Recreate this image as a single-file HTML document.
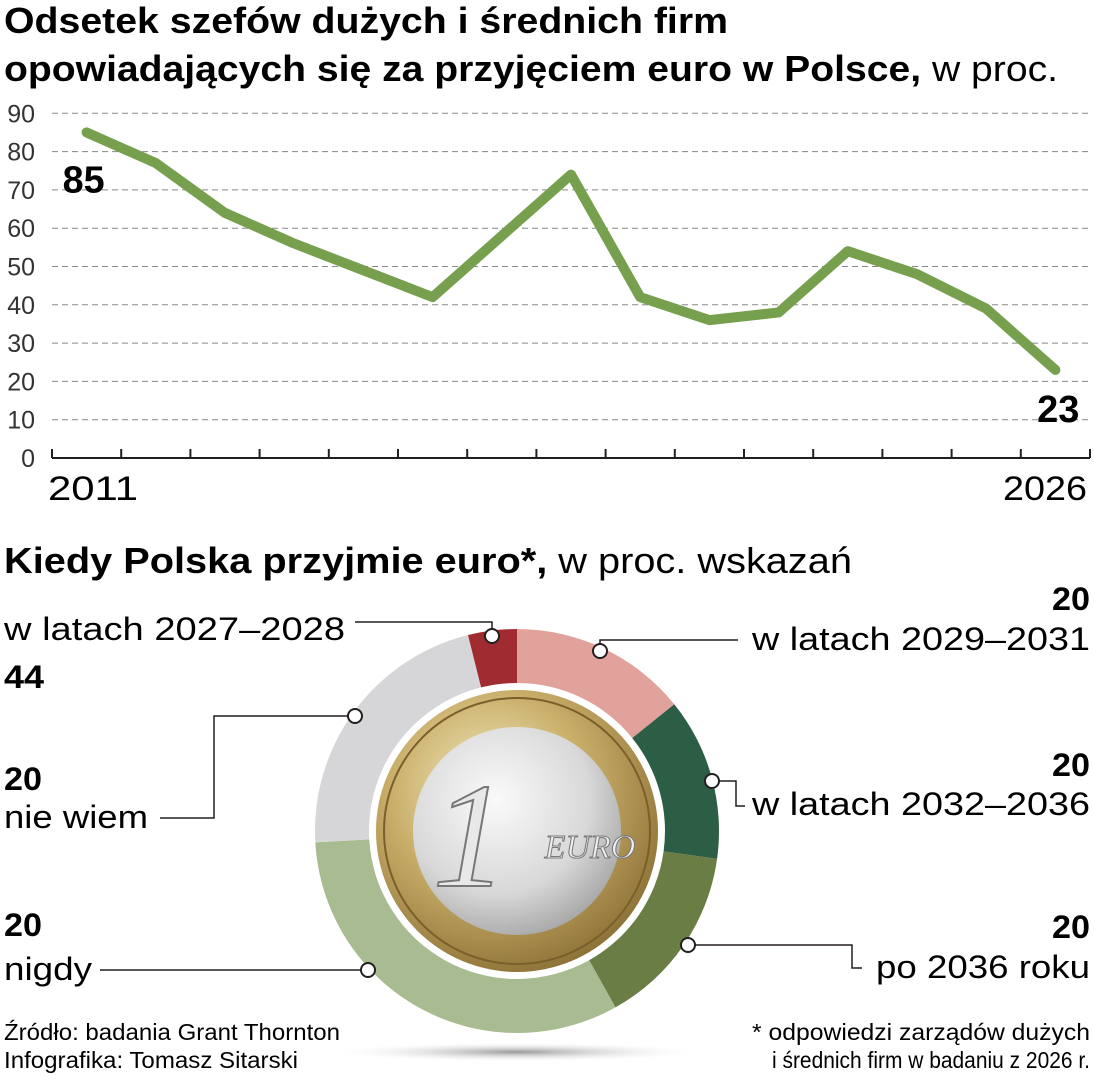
<!DOCTYPE html>
<html><head><meta charset="utf-8"><style>
body{margin:0;background:#fff;width:1094px;height:1080px;overflow:hidden;font-family:"Liberation Sans",sans-serif;color:#231f20}
svg{position:absolute;left:0;top:0}
</style></head><body>
<svg width="1094" height="1080">
<defs>
<radialGradient id="coinEdge" cx="40%" cy="35%" r="70%"><stop offset="0" stop-color="#f4ecc0"/><stop offset="0.5" stop-color="#c9ae6a"/><stop offset="1" stop-color="#8a6f35"/></radialGradient>
<radialGradient id="coinCore" cx="40%" cy="35%" r="75%"><stop offset="0" stop-color="#fafafa"/><stop offset="0.6" stop-color="#d8d8d8"/><stop offset="1" stop-color="#9a9a9a"/></radialGradient>
<radialGradient id="shadow" cx="50%" cy="50%" r="50%"><stop offset="0" stop-color="#999"/><stop offset="1" stop-color="#fff" stop-opacity="0"/></radialGradient>
</defs>
<text x="4" y="33" font-size="36" font-weight="bold" textLength="724" lengthAdjust="spacingAndGlyphs">Odsetek szefów dużych i średnich firm</text>
<text x="4" y="81" font-size="36" font-weight="bold" textLength="1054" lengthAdjust="spacingAndGlyphs">opowiadających się za przyjęciem euro w Polsce,<tspan font-weight="normal"> w proc.</tspan></text>
<g id="grid"></g>
<g id="yticks"></g>
<g id="xaxis"></g>
<path id="line" fill="none" stroke="#76a04d" stroke-width="10" stroke-linejoin="round" stroke-linecap="round"/>
<text id="firstLbl" font-size="38" font-weight="bold" textLength="42" lengthAdjust="spacingAndGlyphs"></text>
<text id="lastLbl" font-size="38" font-weight="bold" text-anchor="end"></text>
<text x="48" y="500" font-size="34" textLength="90" lengthAdjust="spacingAndGlyphs">2011</text>
<text x="1003" y="500" font-size="34" textLength="84" lengthAdjust="spacingAndGlyphs">2026</text>

<text x="4" y="573" font-size="36" font-weight="bold" textLength="848" lengthAdjust="spacingAndGlyphs">Kiedy Polska przyjmie euro*,<tspan font-weight="normal"> w proc. wskazań</tspan></text>
<ellipse cx="517" cy="1052" rx="190" ry="10" fill="url(#shadow)"/>
<g id="donut"></g>
<g>
<circle cx="517" cy="831" r="141" fill="url(#coinEdge)"/>
<circle cx="517" cy="831" r="133" fill="none" stroke="#7a5f2a" stroke-width="2"/>
<circle cx="517" cy="831" r="104" fill="url(#coinCore)"/>
<text x="470" y="886" font-size="150" font-style="italic" font-family="Liberation Serif,serif" fill="#e8e8e8" stroke="#777" stroke-width="2" text-anchor="middle">1</text>
<text x="590" y="858" font-size="34" font-style="italic" font-family="Liberation Serif,serif" fill="#eee" stroke="#777" stroke-width="1" text-anchor="middle">EURO</text>
</g>
<g stroke="#231f20" stroke-width="1.5" fill="none">
<path d="M355 622 H492 V636"/>
<path d="M600 651 V640 H738"/>
<path d="M355 716 H214 V818 H160"/>
<path d="M712 781 H736 V806 H745"/>
<path d="M688 945 H852 V968 H862"/>
<path d="M368 970 H100"/>
</g>
<g fill="#fff" stroke="#231f20" stroke-width="2">
<circle cx="492" cy="636" r="7"/><circle cx="600" cy="651" r="7"/><circle cx="355" cy="716" r="7"/>
<circle cx="712" cy="781" r="7"/><circle cx="688" cy="945" r="7"/><circle cx="368" cy="970" r="7"/>
</g>
<g font-size="32" lengthAdjust="spacingAndGlyphs">
<text x="4" y="640" textLength="341" lengthAdjust="spacingAndGlyphs">w latach 2027–2028</text>
<text x="4" y="688" font-weight="bold" textLength="40" lengthAdjust="spacingAndGlyphs">44</text>
<text x="4" y="790" font-weight="bold" textLength="38" lengthAdjust="spacingAndGlyphs">20</text>
<text x="4" y="828" textLength="144" lengthAdjust="spacingAndGlyphs">nie wiem</text>
<text x="4" y="936" font-weight="bold" textLength="38" lengthAdjust="spacingAndGlyphs">20</text>
<text x="4" y="980" textLength="88" lengthAdjust="spacingAndGlyphs">nigdy</text>
<text x="1052" y="610" font-weight="bold" textLength="38" lengthAdjust="spacingAndGlyphs">20</text>
<text x="752" y="650" textLength="338" lengthAdjust="spacingAndGlyphs">w latach 2029–2031</text>
<text x="1052" y="776" font-weight="bold" textLength="38" lengthAdjust="spacingAndGlyphs">20</text>
<text x="752" y="815" textLength="338" lengthAdjust="spacingAndGlyphs">w latach 2032–2036</text>
<text x="1052" y="938" font-weight="bold" textLength="38" lengthAdjust="spacingAndGlyphs">20</text>
<text x="876" y="978" textLength="214" lengthAdjust="spacingAndGlyphs">po 2036 roku</text>
</g>
<g font-size="23">
<text x="4" y="1040" textLength="336" lengthAdjust="spacingAndGlyphs">Źródło: badania Grant Thornton</text>
<text x="4" y="1068" textLength="294" lengthAdjust="spacingAndGlyphs">Infografika: Tomasz Sitarski</text>
<text x="752" y="1040" textLength="338" lengthAdjust="spacingAndGlyphs">* odpowiedzi zarządów dużych</text>
<text x="772" y="1068" textLength="318" lengthAdjust="spacingAndGlyphs">i średnich firm w badaniu z 2026 r.</text>
</g>
</svg>
<script>
const values=[85,77,64,56,49,42,58,74,42,36,38,54,48,39,23];
const yTicks=[0,10,20,30,40,50,60,70,80,90];
const sliceValues=[14.2,13,14.7,32.2,22,3.9];
const sliceNames=['2029-2031','2032-2036','po-2036','nigdy','nie-wiem','2027-2028'];
const sliceColors=['#e2a29c','#2b5e45','#6a7d45','#a9bb91','#d6d6d8','#a02c32'];
const NS='http://www.w3.org/2000/svg';
const X0=52,X1=1090,Y0=458,PX=3.83;
const y=v=>Y0-v*PX;
const step=(X1-X0)/values.length;
const x=i=>X0+step*(i+0.5);
const grid=document.getElementById('grid'),yt=document.getElementById('yticks'),xa=document.getElementById('xaxis');
yTicks.forEach(t=>{
 const lab=document.createElementNS(NS,'text');
 
 
 lab.setAttribute('x',35);lab.setAttribute('y',y(t)+9);lab.setAttribute('font-size','25');lab.setAttribute('text-anchor','end');lab.setAttribute('fill','#333');
 lab.textContent=t;yt.appendChild(lab);
 if(t>0){const l=document.createElementNS(NS,'line');
 
 
 l.setAttribute('x1',X0);l.setAttribute('x2',X1);l.setAttribute('y1',y(t));l.setAttribute('y2',y(t));
 l.setAttribute('stroke','#888');l.setAttribute('stroke-dasharray','6 4');l.setAttribute('stroke-width','1');grid.appendChild(l);}
});
const ax=document.createElementNS(NS,'path');


let d='M'+X0+' '+Y0+' H'+X1;
for(let i=0;i<=values.length;i++){d+=' M'+(X0+step*i)+' '+Y0+' V'+(Y0-9);}
ax.setAttribute('d',d);ax.setAttribute('stroke','#231f20');ax.setAttribute('stroke-width','2');ax.setAttribute('fill','none');xa.appendChild(ax);
document.getElementById('line').setAttribute('d',values.map((v,i)=>(i?'L':'M')+x(i)+' '+y(v)).join(' '));
const f=document.getElementById('firstLbl');f.setAttribute('x',x(0)-24);f.setAttribute('y',y(values[0])+60);f.textContent=values[0];
const n=values.length-1,l=document.getElementById('lastLbl');l.setAttribute('x',x(n)+24);l.setAttribute('y',y(values[n])+52);l.textContent=values[n];
const CX=517,CY=831,RO=202,RI=148;
const tot=sliceValues.reduce((a,b)=>a+b,0);
let a0=0;const dg=document.getElementById('donut');
const pt=(r,a)=>[CX+r*Math.sin(a),CY-r*Math.cos(a)];
sliceValues.forEach((v,i)=>{
 const a1=a0+v/tot*2*Math.PI;const lg=(a1-a0)>Math.PI?1:0;
 const p1=pt(RO,a0),p2=pt(RO,a1),p3=pt(RI,a1),p4=pt(RI,a0);
 const p=document.createElementNS(NS,'path');
 
 
 p.setAttribute('d',`M${p1} A${RO} ${RO} 0 ${lg} 1 ${p2} L${p3} A${RI} ${RI} 0 ${lg} 0 ${p4}Z`);
 p.setAttribute('fill',sliceColors[i]);dg.appendChild(p);a0=a1;
});
</script>
</body></html>
